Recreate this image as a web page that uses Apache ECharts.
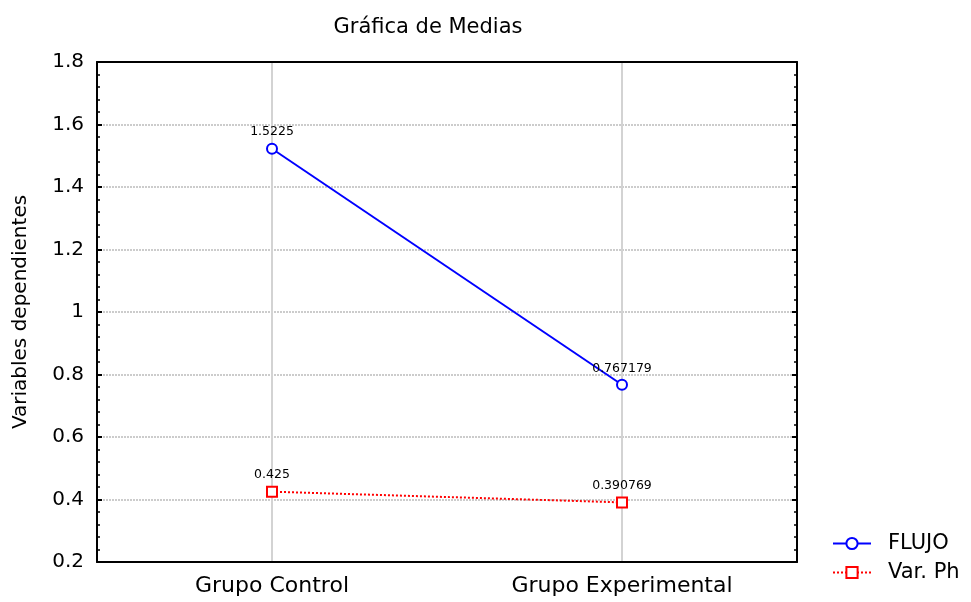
<!DOCTYPE html>
<html>
<head>
<meta charset="utf-8">
<script src="https://cdn.jsdelivr.net/npm/echarts@6/dist/echarts.min.js"></script>
<style>
  html, body { margin: 0; padding: 0; background: #fff; }
  #chart { width: 971px; height: 602px; }
</style>
</head>
<body>
<div id="chart"></div>
<script>
const categories = ['Grupo Control', 'Grupo Experimental'];
const flujo = [1.5225, 0.767179];
const varPh = [0.425, 0.390769];
const yMin = 0.2, yMax = 1.8, yStep = 0.2;

const font = 'DejaVu Sans';
const chart = echarts.init(document.getElementById('chart'));

const yCommon = {
    type: 'value',
    min: yMin,
    max: yMax,
    interval: yStep,
    axisLine: { show: true, lineStyle: { color: '#000', width: 2 } },
    axisTick: { show: true, inside: true, length: 5, lineStyle: { color: '#000', width: 2 } },
    minorTick: { show: true, splitNumber: 5, length: 3, lineStyle: { color: '#000', width: 1.5 } }
};

const option = {
    animation: false,
    textStyle: { fontFamily: font },
    title: {
        text: 'Gráfica de Medias',
        left: 423,
        top: 12,
        textAlign: 'center',
        textStyle: { fontFamily: font, fontSize: 21, fontWeight: 'normal', color: '#000' }
    },
    legend: {
        orient: 'vertical',
        left: 827,
        top: 528,
        itemGap: 8,
        itemWidth: 38,
        itemHeight: 14,
        textStyle: { fontFamily: font, fontSize: 21, color: '#000', padding: [0, 0, 0, 12] },
        data: ['FLUJO', 'Var. Ph']
    },
    grid: { left: 97, right: 174, top: 62, bottom: 40, containLabel: false },
    xAxis: [{
        type: 'category',
        data: categories,
        position: 'bottom',
        axisLine: { lineStyle: { color: '#000', width: 2 } },
        axisTick: { inside: true, alignWithLabel: true, length: 5, lineStyle: { color: '#000', width: 2 } },
        axisLabel: { fontFamily: font, fontSize: 22, color: '#000', margin: 13 },
        splitLine: { show: true, alignWithLabel: true, lineStyle: { color: '#d3d3d3', width: 2 } }
    }, {
        type: 'category',
        data: categories,
        position: 'top',
        axisLine: { lineStyle: { color: '#000', width: 2 } },
        axisTick: { inside: true, alignWithLabel: true, length: 5, lineStyle: { color: '#000', width: 2 } },
        axisLabel: { show: false },
        splitLine: { show: false }
    }],
    yAxis: [Object.assign({}, yCommon, {
        position: 'left',
        name: 'Variables dependientes',
        nameLocation: 'middle',
        nameGap: 66,
        nameTextStyle: { fontFamily: font, fontSize: 20, color: '#000' },
        axisLabel: { fontFamily: font, fontSize: 20, color: '#000', margin: 13 },
        splitLine: { show: true, lineStyle: { color: '#cccccc', width: 2, type: [2, 1] } }
    }), Object.assign({}, yCommon, {
        position: 'right',
        axisLabel: { show: false },
        splitLine: { show: false }
    })],
    series: [{
        name: 'FLUJO',
        type: 'line',
        data: flujo,
        symbol: 'emptyCircle',
        symbolSize: 10,
        color: '#0000ff',
        lineStyle: { color: '#0000ff', width: 2 },
        itemStyle: { color: '#0000ff', borderColor: '#0000ff', borderWidth: 2 },
        label: { show: true, position: 'top', distance: 4, fontFamily: font, fontSize: 12.5, color: '#000' }
    }, {
        name: 'Var. Ph',
        type: 'line',
        data: varPh,
        symbol: 'rect',
        symbolSize: 10,
        color: '#ff0000',
        lineStyle: { color: '#ff0000', width: 2, type: [2, 2] },
        itemStyle: { color: '#fff', borderColor: '#ff0000', borderWidth: 2 },
        label: { show: true, position: 'top', distance: 4, fontFamily: font, fontSize: 12.5, color: '#000' }
    }]
};

chart.setOption(option);
</script>
</body>
</html>
